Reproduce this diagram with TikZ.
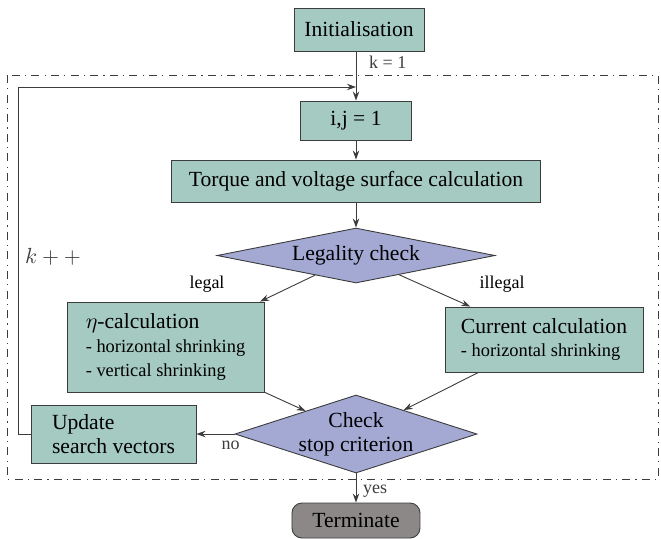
\documentclass[tikz,border=0pt]{standalone}
\usepackage{fontspec}
\setmainfont{Liberation Serif}
\usepackage{xcolor}
\usepackage{tikz}
\usetikzlibrary{shapes.geometric, arrows.meta, positioning}
\definecolor{boxgreen}{RGB}{165, 202, 193}
\definecolor{checkblue}{RGB}{163, 169, 211}
\definecolor{endgray}{RGB}{140, 136, 136}
\definecolor{edgegray}{RGB}{60, 60, 60}
\newcommand{\subline}[1]{{\fontsize{9.2}{11.8}\selectfont - #1}}

\begin{document}
\begin{tikzpicture}[x=0.5pt, y=-0.5pt,
    every node/.style={font=\fontsize{10.8}{11.8}\selectfont},
    procbox/.style={draw=edgegray, fill=boxgreen, line width=0.45pt, inner sep=2pt},
    checkbox/.style={diamond, draw=edgegray, fill=checkblue, line width=0.45pt,
                     inner sep=-1.5pt, align=center},
    endbox/.style={draw=edgegray, fill=endgray, line width=0.45pt, rounded corners=5pt},
    flow/.style={-{Stealth[length=4.5pt, width=3.2pt]}, line width=0.45pt, edgegray},
    lbl/.style={font=\fontsize{9}{11}\selectfont},
    frame/.style={edgegray, line width=0.45pt,
                  dash pattern=on 4pt off 2.6pt on 0.6pt off 2.6pt}]
    \useasboundingbox (0,0) rectangle (661,538);

    % Outer loop frame
    \draw[frame] (7,75) rectangle (658,479);

    % Process steps
    \node[procbox, minimum width=65pt, minimum height=21.5pt] (init) at (359,29.5) {Initialisation};
    \node[procbox, minimum width=55.5pt, minimum height=19.5pt] (ij) at (356,120.5) {i,j = 1};
    \node[procbox, minimum width=184.5pt, minimum height=21pt] (torque) at (356,181)
        {Torque and voltage surface calculation};
    \node[checkbox, minimum width=139pt, minimum height=27.5pt, aspect=5] (legal) at (356,255.5)
        {Legality check};
    \node[procbox, minimum width=98.5pt, minimum height=45pt, align=left] (eta) at (165.5,347)
        {$\eta$-calculation\\ \subline{horizontal shrinking}\\ \subline{vertical shrinking}};
    \node[procbox, minimum width=99pt, minimum height=32.5pt, align=left] (current) at (544,339.5)
        {Current calculation\\ \subline{horizontal shrinking}};
    \node[checkbox, minimum width=121pt, minimum height=39pt, aspect=3.1] (stop) at (356,434)
        {Check\\ stop criterion};
    \node[procbox, minimum width=82.5pt, minimum height=29pt, align=left] (update) at (113.5,434)
        {Update\\ search vectors};
    \node[endbox, minimum width=64pt, minimum height=17.5pt] (term) at (356,520.5) {Terminate};

    % Branch labels
    \node[lbl] (legallbl) at (207,284) {legal};
    \node[lbl] (illegallbl) at (502,284) {illegal};

    % Connectors
    \coordinate (merge) at (356,87);
    \coordinate (fbcorner) at (18,87);
    \draw[flow] (ij.north |- init.south) -- node[lbl, right, pos=0.22, xshift=3pt] {k = 1} (ij);
    \draw[flow] (ij) -- (torque);
    \draw[flow] (torque) -- (legal);
    \draw[flow] (legal) -- (eta);
    \draw[flow] (legal) -- (current);
    \draw[flow] (eta) -- (stop);
    \draw[flow] (current) -- (stop);
    \draw[flow] (stop) -- node[lbl, below, pos=0.1] {no} (update);
    \draw[flow] (stop) -- node[lbl, right, pos=0.6] {yes} (term);
    \draw[flow] (update.west) -| node[pos=0.756, right] {$k++$} (fbcorner) -- (merge);

\end{tikzpicture}
\end{document}
